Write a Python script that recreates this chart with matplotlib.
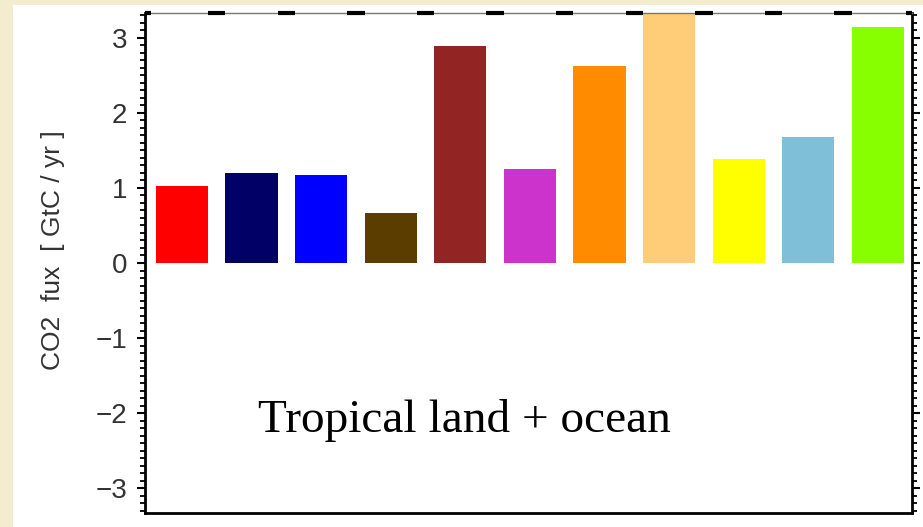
import matplotlib
matplotlib.use("Agg")
import matplotlib.pyplot as plt
from matplotlib.patches import Rectangle
from matplotlib.ticker import MultipleLocator
from matplotlib import font_manager

# ---- data ----
values = [1.03, 1.20, 1.17, 0.67, 2.89, 1.25, 2.62, 3.60, 1.39, 1.68, 3.15]
colors = ["#FF0000", "#000066", "#0000FF", "#5C3D00", "#922424", "#CC33CC",
          "#FF8C00", "#FFCC77", "#FFFF00", "#80BFD8", "#88FF00"]
yticks = [-3, -2, -1, 0, 1, 2, 3]
ylabel = "CO2  fux  [ GtC / yr ]"
annotation = "Tropical land + ocean"

names = {f.name for f in font_manager.fontManager.ttflist}
label_family = "Liberation Sans Narrow" if "Liberation Sans Narrow" in names else "Liberation Sans"

W, H = 923, 527
fig = plt.figure(figsize=(W / 100, H / 100), dpi=100)
fig.patch.set_facecolor("#F3ECCF")
fig.patches.append(Rectangle((13 / W, 0), 1 - 13 / W, 522 / H, transform=fig.transFigure,
                             facecolor="white", edgecolor="none", zorder=-10))

ax = fig.add_axes([145 / W, 14 / H, (912 - 145) / W, (513 - 13) / H])
ax.set_zorder(5)
ax.set_facecolor("white")

x = list(range(len(values)))
bw = 0.75
ax.bar(x, values, width=bw, color=colors, linewidth=0, zorder=2)

ax.set_xlim(-0.53, 10.49)
ax.set_ylim(-3.33, 3.33)

# dashes along the top edge in the gaps between bars
top = 3.33
gaps = [(i + bw / 2, i + 1 - bw / 2) for i in range(len(values) - 1)]
for a, b in gaps:
    ax.plot([a, b], [top, top], color="black", lw=3, solid_capstyle="butt",
            clip_on=False, zorder=3)
ax.plot([-0.53, -0.45], [top, top], color="black", lw=3, solid_capstyle="butt",
        clip_on=False, zorder=3)
ax.plot([10.40, 10.49], [top, top], color="black", lw=3, solid_capstyle="butt",
        clip_on=False, zorder=3)

ax.set_xticks([])
ax.set_yticks(yticks)
ax.yaxis.set_minor_locator(MultipleLocator(0.1))
ax.tick_params(axis="y", which="major", direction="out", length=6, width=1.5,
               left=True, right=True, labelleft=True, labelright=False,
               labelsize=20, labelcolor="#333333", pad=7)
ax.tick_params(axis="y", which="minor", direction="out", length=3.5, width=1.3,
               left=True, right=True)
for lab in ax.get_yticklabels():
    lab.set_family("Liberation Sans")

for s in ["left", "right", "bottom"]:
    ax.spines[s].set_linewidth(2)
    ax.spines[s].set_color("black")
ax.spines["top"].set_linewidth(1)
ax.spines["top"].set_color("#777777")

ax.set_ylabel(ylabel, fontsize=19, family=label_family, color="#333333")
ax.yaxis.set_label_coords(-0.104, 0.526)

ax.text(1.09, -2.25, annotation, fontsize=34, family="Liberation Serif",
        ha="left", va="baseline", color="black", zorder=4)

fig.savefig("out.png", dpi=100, facecolor=fig.get_facecolor())
